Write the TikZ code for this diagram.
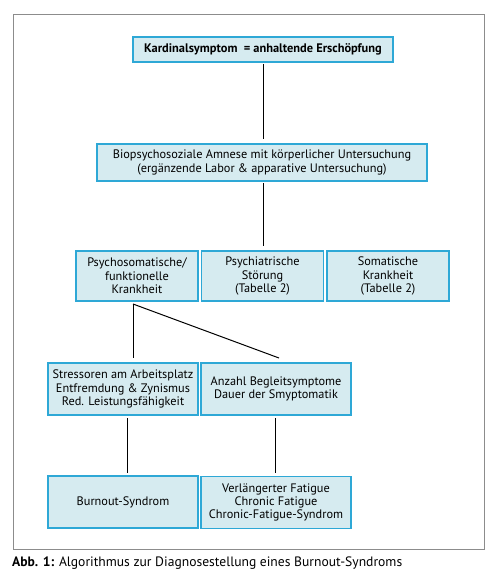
\documentclass[tikz,border=0pt]{standalone}
\usepackage{fontspec}
\setmainfont{PT Sans}
\definecolor{boxfill}{HTML}{D6EBF0}
\definecolor{boxline}{HTML}{2EA8D6}
\definecolor{framegray}{HTML}{8C8C8C}
\begin{document}
\begin{tikzpicture}[x=1pt,y=-1pt,
  box/.style={draw=boxline,fill=boxfill,line width=1.3pt,align=center,inner sep=0pt,font=\fontsize{12.3}{13.4}\selectfont},
  conn/.style={draw=black,line width=1pt}]
\useasboundingbox (0,0) rectangle (500,578);
\draw[framegray,line width=1pt] (13,15) rectangle (484,549);
\node[box,minimum width=260pt,minimum height=25pt,font=\fontsize{12.4}{13}\selectfont\bfseries] (k) at (263,49.5) {Kardinalsymptom\ \ = anhaltende Erschöpfung};
\node[box,minimum width=330pt,minimum height=37pt] (b) at (262,162.5) {Biopsychosoziale Amnese mit körperlicher Untersuchung\\(ergänzende Labor \& apparative Untersuchung)};
\node[box,minimum width=122pt,minimum height=50pt] (p1) at (137,276) {Psychosomatische/\\funktionelle\\Krankheit};
\node[box,minimum width=122pt,minimum height=50pt] (p2) at (262.5,276) {Psychiatrische\\Störung\\(Tabelle 2)};
\node[box,minimum width=122pt,minimum height=50pt] (p3) at (388,276) {Somatische\\Krankheit\\(Tabelle 2)};
\node[box,minimum width=150pt,minimum height=52pt] (s) at (123,389) {Stressoren am Arbeitsplatz\\Entfremdung \& Zynismus\\Red. Leistungsfähigkeit};
\node[box,minimum width=150pt,minimum height=52pt] (a) at (276,389) {Anzahl Begleitsymptome\\Dauer der Smyptomatik};
\node[box,minimum width=150pt,minimum height=52pt] (bo) at (123,502) {Burnout-Syndrom};
\node[box,minimum width=150pt,minimum height=52pt] (f) at (276,502.5) {Verlängerter Fatigue\\Chronic Fatigue\\Chronic-Fatigue-Syndrom};
\coordinate (ksb) at (263,64);
\coordinate (bt) at (263,139);
\coordinate (bb) at (263,183);
\coordinate (pt) at (263,246);
\coordinate (p1b) at (133,304);
\coordinate (st) at (133,358);
\coordinate (at) at (279,358);
\coordinate (sb) at (127,418);
\coordinate (bot) at (127,473);
\coordinate (ab) at (275,418);
\coordinate (ft) at (275,473);
\draw[conn] (ksb) -- (bt);
\draw[conn] (bb) -- (pt);
\draw[conn] (p1b) -- (st);
\draw[conn] (p1b) -- (at);
\draw[conn] (sb) -- (bot);
\draw[conn] (ab) -- (ft);
\node[anchor=west,inner sep=0pt,font=\fontsize{13.6}{15}\selectfont] (cap) at (12,563) {\textbf{Abb. 1:} Algorithmus zur Diagnosestellung eines Burnout-Syndroms};
\end{tikzpicture}
\end{document}
